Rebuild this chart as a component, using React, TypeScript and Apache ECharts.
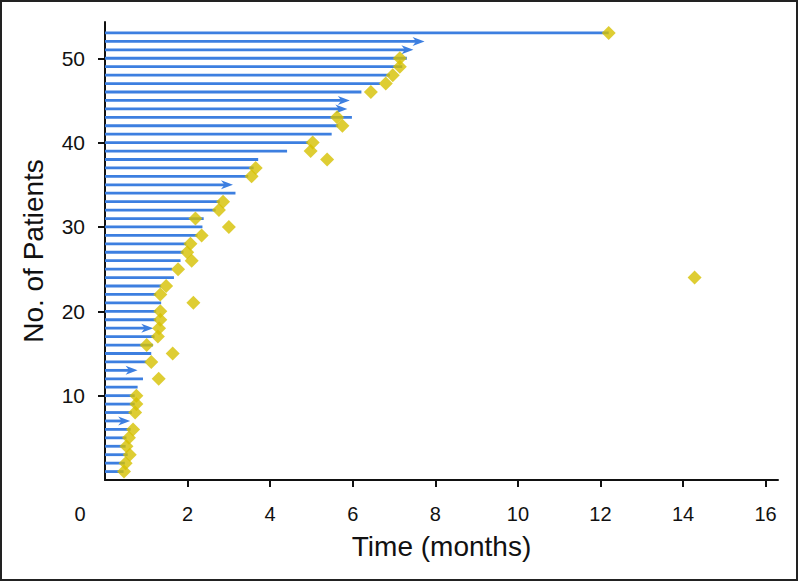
import React, { useEffect, useRef } from "react";
import * as echarts from "echarts";

// Line end (months) for patients 1..53
const durations: number[] = [
  0.45, 0.48, 0.55, 0.5, 0.52, 0.62, 0.61, 0.65, 0.72, 0.72,
  0.79, 0.92, 0.79, 1.0, 1.12, 1.16, 1.2, 1.17, 1.24, 1.24,
  1.36, 1.24, 1.36, 1.67, 1.63, 1.83, 1.9, 1.97, 2.24, 2.36,
  2.39, 2.68, 2.78, 3.16, 3.1, 3.47, 3.6, 3.71, 4.41, 4.92,
  5.49, 5.65, 5.98, 5.87, 5.93, 6.21, 6.66, 6.9, 7.2, 7.31,
  7.47, 7.74, 12.2,
];

// Patients whose response is ongoing (arrow)
const ongoing: number[] = [7, 13, 18, 35, 44, 45, 51, 52];

// Event (diamond) time in months for patients 1..53, null = no event
const events: (number | null)[] = [
  0.46, 0.5, 0.6, 0.52, 0.58, 0.68, null, 0.73, 0.76, 0.76,
  null, 1.3, null, 1.12, 1.64, 1.01, 1.28, 1.31, 1.34, 1.34,
  2.14, 1.34, 1.48, 14.28, 1.77, 2.1, 1.99, 2.07, 2.34, 3.0,
  2.19, 2.76, 2.86, null, null, 3.55, 3.65, 5.38, 4.98, 5.03,
  null, 5.75, 5.62, null, null, 6.44, 6.8, 6.97, 7.14, 7.14,
  null, null, 12.2,
];

const xTickLabels: number[] = [0, 2, 4, 6, 8, 10, 12, 14, 16];
const xTicks: number[] = [2, 4, 6, 8, 10, 12, 14, 16];
const yTickLabels: number[] = [10, 20, 30, 40, 50];

const BLUE = "#3d7fe0";
const GOLD = "#d6c100";
const FONT = "'Liberation Sans', Arial, Helvetica, sans-serif";

export default function App() {
  const ref = useRef<HTMLDivElement>(null);

  useEffect(() => {
    const chart = echarts.init(ref.current!, null, { renderer: "svg" });

    const lineData = durations.map((d, i) => [i + 1, d, ongoing.includes(i + 1) ? 1 : 0]);
    const eventData = events
      .map((e, i) => (e == null ? null : [e, i + 1]))
      .filter((v) => v !== null);

    chart.setOption({
      animation: false,
      backgroundColor: "#ffffff",
      grid: { left: 105, right: 21, top: 22, bottom: 102, outerBoundsMode: "none" },
      xAxis: {
        type: "value",
        min: 0,
        max: 16.3,
        name: "Time (months)",
        nameLocation: "middle",
        nameGap: 52,
        nameTextStyle: { fontFamily: FONT, fontSize: 28, color: "#111" },
        axisLine: { show: true, onZero: false, lineStyle: { color: "#111", width: 2 } },
        axisTick: { show: true, customValues: xTicks, length: 7, lineStyle: { color: "#111", width: 2 } },
        axisLabel: {
          customValues: xTickLabels,
          margin: 24,
          fontFamily: FONT,
          fontSize: 20,
          color: "#111",
          formatter: (v: number) => (v === 0 ? "{z|0}" : String(v)),
          rich: { z: { fontFamily: FONT, fontSize: 20, color: "#111", padding: [0, 50, 0, 0] } },
        },
        splitLine: { show: false },
      },
      yAxis: {
        type: "value",
        min: 0,
        max: 54.3,
        name: "No. of Patients",
        nameLocation: "middle",
        nameGap: 58,
        nameTextStyle: { fontFamily: FONT, fontSize: 28, color: "#111" },
        axisLine: { show: true, onZero: false, lineStyle: { color: "#111", width: 2 } },
        axisTick: { show: true, customValues: yTickLabels, length: 7, lineStyle: { color: "#111", width: 2 } },
        axisLabel: {
          customValues: yTickLabels,
          margin: 20,
          fontFamily: FONT,
          fontSize: 21,
          color: "#111",
        },
        splitLine: { show: false },
      },
      graphic: [
        {
          type: "rect",
          silent: true,
          shape: { x: 1, y: 1, width: 796, height: 579 },
          style: { fill: "none", stroke: "#222", lineWidth: 2 },
          z: 100,
        },
      ],
      series: [
        {
          type: "custom",
          z: 2,
          encode: { x: 1, y: 0 },
          data: lineData,
          renderItem: (params: any, api: any) => {
            const p = api.value(0);
            const end = api.value(1);
            const arrow = api.value(2);
            const s = api.coord([0, p]);
            const e = api.coord([end, p]);
            const children: any[] = [
              {
                type: "line",
                shape: { x1: s[0], y1: s[1], x2: arrow ? e[0] - 6 : e[0], y2: e[1] },
                style: { stroke: BLUE, lineWidth: 2.8 },
              },
            ];
            if (arrow) {
              children.push({
                type: "polygon",
                shape: {
                  points: [
                    [e[0], e[1]],
                    [e[0] - 12, e[1] - 4.5],
                    [e[0] - 8.5, e[1]],
                    [e[0] - 12, e[1] + 4.5],
                  ],
                },
                style: { fill: BLUE },
              });
            }
            return { type: "group", children };
          },
        },
        {
          type: "scatter",
          z: 3,
          symbol: "diamond",
          symbolSize: 14,
          itemStyle: { color: GOLD },
          data: eventData,
        },
      ],
    });

    return () => chart.dispose();
  }, []);

  return (
    <div
      ref={ref}
      style={{ position: "absolute", left: 0, top: 0, width: 799, height: 582 }}
    />
  );
}
